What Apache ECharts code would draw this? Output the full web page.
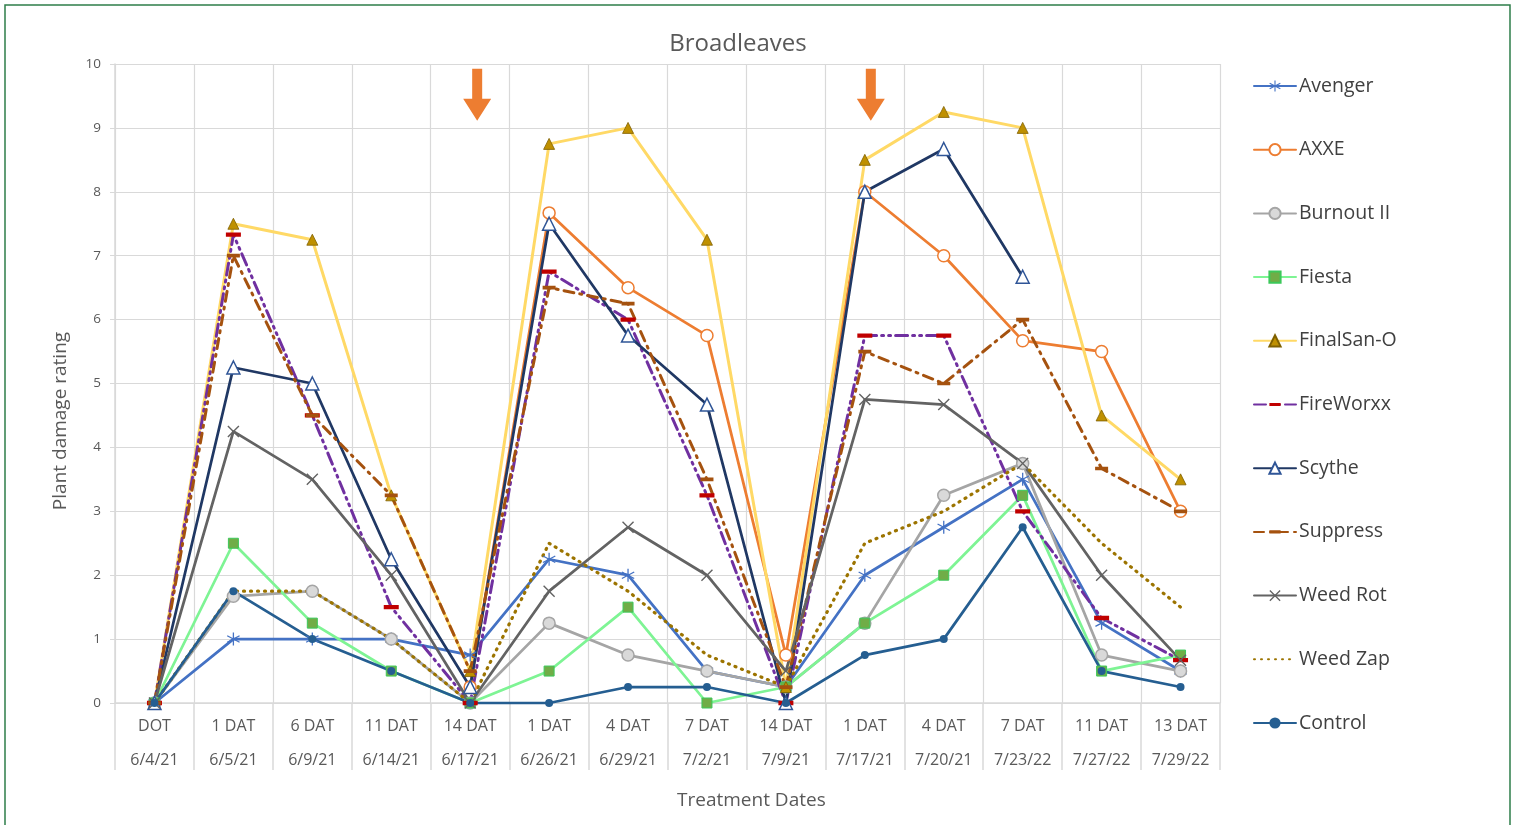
<!DOCTYPE html>
<html>
<head>
<meta charset="utf-8">
<script src="https://cdn.jsdelivr.net/npm/echarts@6/dist/echarts.min.js"></script>
<style>
html,body{margin:0;padding:0;background:#fff;}
#chart{width:1517px;height:825px;}
</style>
</head>
<body>
<div id="chart"></div>
<script>
const dayLabels = ['DOT','1 DAT','6 DAT','11 DAT','14 DAT','1 DAT','4 DAT','7 DAT','14 DAT','1 DAT','4 DAT','7 DAT','11 DAT','13 DAT'];
const dateLabels = ['6/4/21','6/5/21','6/9/21','6/14/21','6/17/21','6/26/21','6/29/21','7/2/21','7/9/21','7/17/21','7/20/21','7/23/22','7/27/22','7/29/22'];
const yTicks = [0,1,2,3,4,5,6,7,8,9,10];

const avenger   = [0,1,1,1,0.75,2.25,2,0.5,0.25,2,2.75,3.5,1.25,0.5];
const axxe      = [null,null,null,null,0.25,7.67,6.5,5.75,0.75,8,7,5.67,5.5,3];
const burnout   = [0,1.67,1.75,1,0,1.25,0.75,0.5,0.25,1.25,3.25,3.75,0.75,0.5];
const fiesta    = [0,2.5,1.25,0.5,0,0.5,1.5,0,0.25,1.25,2,3.25,0.5,0.75];
const finalSan  = [0,7.5,7.25,3.25,0.5,8.75,9,7.25,0.25,8.5,9.25,9,4.5,3.5];
const fireworxx = [0,7.33,4.5,1.5,0,6.75,6,3.25,0,5.75,5.75,3,1.33,0.67];
const scythe    = [0,5.25,5,2.25,0.25,7.5,5.75,4.67,0,8,8.67,6.67,null,null];
const suppress  = [0,7,4.5,3.25,0.5,6.5,6.25,3.5,0.25,5.5,5,6,3.67,3];
const weedRot   = [0,4.25,3.5,2,0,1.75,2.75,2,0.5,4.75,4.67,3.75,2,0.67];
const weedZap   = [0,1.75,1.75,1,0,2.5,1.75,0.75,0.25,2.5,3,3.75,2.5,1.5];
const control   = [0,1.75,1,0.5,0,0,0.25,0.25,0,0.75,1,2.75,0.5,0.25];
const arrowAt   = [4, 9];

const categories = dayLabels.map((d, i) => d + '\n' + dateLabels[i]);

// symbol shapes
function bars(angles) {
  let p = '';
  const L = 10, w = 0.9;
  angles.forEach(a => {
    const r = a * Math.PI / 180;
    const c = Math.cos(r), s = Math.sin(r);
    const px = -s * w, py = c * w;
    const pts = [[L*c+px, L*s+py],[L*c-px, L*s-py],[-L*c-px, -L*s-py],[-L*c+px, -L*s+py]];
    p += 'M' + pts.map(q => q[0].toFixed(2) + ',' + q[1].toFixed(2)).join('L') + 'Z';
  });
  return 'path://' + p;
}
const asterisk = bars([90, 30, 150]);
const cross = bars([45, 135]);
// horizontal dash inside a square box (tiny corner points keep the box square)
const dash = 'path://M0,0L0.01,0L0,0.01ZM0,5L14,5L14,9L0,9ZM14,14L13.99,14L14,13.99Z';
const arrowPath = 'path://M9,0L19,0L19,30L28,30L14,52L0,30L9,30Z';

function mk(name, data, color, lineType, width, symbol, size, itemStyle, extra) {
  return Object.assign({
    name: name, type: 'line', data: data,
    symbol: symbol, symbolSize: size, showSymbol: true,
    symbolKeepAspect: false,
    lineStyle: { color: color, width: width, type: lineType, cap: 'round' },
    itemStyle: Object.assign({ color: color }, itemStyle || {}),
    emphasis: { disabled: true },
    connectNulls: false, animation: false
  }, extra || {});
}

const series = [
  mk('Avenger', avenger, '#4472C4', 'solid', 2.75, asterisk, 13, { color: '#4472C4', borderColor: '#4472C4', borderWidth: 0 }),
  mk('AXXE', axxe, '#ED7D31', 'solid', 2.75, 'circle', 12, { color: '#ffffff', borderColor: '#ED7D31', borderWidth: 1.5 }),
  mk('Burnout II', burnout, '#A5A5A5', 'solid', 2.75, 'circle', 12, { color: '#D9D9D9', borderColor: '#A5A5A5', borderWidth: 1.5 }),
  mk('Fiesta', fiesta, '#7EF494', 'solid', 2.75, 'rect', 10, { color: '#70AD47', borderColor: '#3CC85A', borderWidth: 1 }),
  mk('FinalSan-O', finalSan, '#FFD966', 'solid', 3, 'triangle', 11, { color: '#BF9000', borderColor: '#7F6000', borderWidth: 0.8 }),
  mk('FireWorxx', fireworxx, '#7030A0', [12, 5, 2, 5, 2, 5], 3, dash, 15, { color: '#C00000', borderWidth: 0 }),
  mk('Scythe', scythe, '#203864', 'solid', 2.75, 'triangle', 13, { color: '#ffffff', borderColor: '#2F5597', borderWidth: 1.5 }),
  mk('Suppress', suppress, '#A5520F', [10, 6, 2, 6], 3, dash, 13, { color: '#A5520F', borderWidth: 0 }),
  mk('Weed Rot', weedRot, '#636363', 'solid', 2.75, cross, 12, { color: '#636363', borderWidth: 0 }),
  mk('Weed Zap', weedZap, '#9C7400', [1, 6], 3.2, 'circle', 0, { color: 'rgba(0,0,0,0)', borderWidth: 0 }, { showSymbol: false }),
  mk('Control', control, '#255E91', 'solid', 2.75, 'circle', 8, { color: '#255E91', borderWidth: 0 }, {
    markPoint: {
      symbol: arrowPath, symbolSize: [28, 52], silent: true, animation: false,
      itemStyle: { color: '#ED7D31' }, label: { show: false },
      data: arrowAt.map((idx, k) => ({ coord: [idx, 9.52], symbolOffset: [k === 0 ? 7 : 6, 0] }))
    }
  })
];

const legendData = series.map(s => {
  const o = { name: s.name };
  if (s.name === 'Weed Zap') o.itemStyle = { color: 'rgba(0,0,0,0)', borderColor: 'rgba(0,0,0,0)', borderWidth: 0 };
  return o;
});

const chart = echarts.init(document.getElementById('chart'), null, { renderer: 'canvas' });
chart.setOption({
  backgroundColor: '#ffffff',
  animation: false,
  title: {
    text: 'Broadleaves', left: 733, top: 27, textAlign: 'center',
    textStyle: { fontFamily: 'Open Sans', fontSize: 24, fontWeight: 'normal', color: '#595959' }
  },
  legend: {
    orient: 'vertical', left: 1248, top: 69, itemWidth: 42, itemHeight: 14, itemGap: 39.7,
    textStyle: { fontFamily: 'Open Sans', fontSize: 19.5, color: '#404040', lineHeight: 24, padding: [0, 0, 0, -2] },
    data: legendData
  },
  grid: { left: 115, right: 297, top: 64, bottom: 122, containLabel: false },
  xAxis: {
    type: 'category', data: categories, boundaryGap: true,
    axisLine: { show: true, lineStyle: { color: '#D9D9D9', width: 1.5 } },
    axisTick: { show: true, interval: 0, length: 67, lineStyle: { color: '#D9D9D9', width: 1.5 } },
    splitLine: { show: true, interval: 0, lineStyle: { color: '#D9D9D9', width: 1.2 } },
    axisLabel: { interval: 0, margin: 6, fontFamily: 'Open Sans', fontSize: 16, color: '#595959', lineHeight: 34 }
  },
  yAxis: {
    type: 'value', min: yTicks[0], max: yTicks[yTicks.length - 1], interval: 1,
    axisLine: { show: true, lineStyle: { color: '#D9D9D9', width: 1.5 } },
    axisTick: { show: true, length: 5, lineStyle: { color: '#D9D9D9' } },
    splitLine: { show: true, lineStyle: { color: '#D9D9D9', width: 1.2 } },
    axisLabel: { margin: 14, fontFamily: 'Open Sans', fontSize: 13.5, color: '#595959' }
  },
  graphic: [
    { type: 'text', x: 61, y: 421, rotation: Math.PI / 2, silent: true,
      style: { text: 'Plant damage rating', font: '19px "Open Sans"', fill: '#595959', align: 'center', verticalAlign: 'middle' } },
    { type: 'text', left: 677, top: 791, silent: true, style: { text: 'Treatment Dates', font: '19px "Open Sans"', fill: '#595959' } },
    { type: 'rect', shape: { x: 5, y: 5, width: 1505, height: 840 }, style: { fill: null, stroke: '#2E7D4A', lineWidth: 1.5 }, silent: true }
  ],
  series: series
});
</script>
</body>
</html>
